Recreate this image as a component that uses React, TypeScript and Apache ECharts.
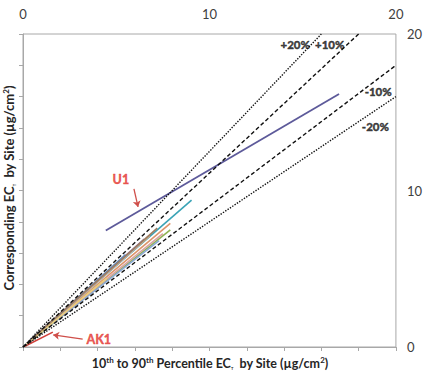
import React, { useEffect, useRef } from "react";
import * as echarts from "echarts";

// Axis ranges and ticks (shared by both axes)
const axisMin = 0;
const axisMax = 20;
const tickStep = 2;
const labelStep = 10;

// Per-site 10th -> 90th percentile segments: [x10, y10, x90, y90]
const siteNames = ["AK1", "U1", "S3", "S4", "S5", "S6", "S7", "S8", "S9", "S10", "S11", "S12", "S13"];
const siteSegments: number[][] = [
  [0.1, 0.05, 1.6, 0.95],
  [4.44, 7.44, 16.95, 16.17],
  [0.6, 0.65, 9.04, 9.39],
  [0.5, 0.5, 7.9, 7.9],
  [0.5, 0.45, 7.9, 7.48],
  [0.4, 0.4, 7.3, 6.8],
  [0.3, 0.3, 6.8, 7.1],
  [0.3, 0.32, 6.2, 6.5],
  [0.5, 0.5, 7.5, 7.25],
  [0.4, 0.45, 6.5, 6.9],
  [0.3, 0.3, 5.5, 5.9],
  [0.2, 0.2, 4.5, 4.4],
  [0.5, 0.55, 7.2, 7.6],
];
const siteColors = [
  "#d0413a", "#5d5a9a", "#3aa3b6", "#dc946a", "#8fb253", "#8aa9d6", "#c9ab8c",
  "#b8b8b8", "#d9a3a3", "#8d6f9c", "#5a86c0", "#e9cf7c", "#9f7d60",
];

// Reference ratio lines through the origin
const ratioLabels = ["+20%", "+10%", "-10%", "-20%"];
const ratioSlopes = [1 / 0.8, 1 / 0.9, 0.9, 0.8];
const ratioDash: (number[] | string)[] = ["dotted", [4, 2.5], [4, 2.5], "dotted"];
const ratioLabelAt = [
  [14.6, 19.3],
  [16.45, 19.3],
  [19.05, 16.35],
  [18.9, 14.1],
];

// Callouts for highlighted sites
const callouts = [
  { name: "U1", text: [5.25, 10.7], from: [5.95, 10.1], to: [6.17, 8.95] },
  { name: "AK1", text: [3.4, 0.45], from: [3.2, 0.5], to: [1.62, 0.77] },
];

const FONT = "Lato, 'Open Sans', sans-serif";
const TITLE_COLOR = "#262626";

const richParts = (size: number) => ({
  sup: {
    fontSize: Math.round(size * 0.62),
    fontWeight: "bold",
    fontFamily: FONT,
    fill: TITLE_COLOR,
    verticalAlign: "top",
    padding: [0, 0, 6, 0],
  },
  sub: {
    fontSize: 4,
    fontWeight: "bold",
    fontFamily: FONT,
    fill: TITLE_COLOR,
    verticalAlign: "bottom",
    padding: [5, 3, 0, 0],
  },
});

export default function App() {
  const ref = useRef<HTMLDivElement>(null);

  useEffect(() => {
    document.body.style.margin = "0";
    if (!ref.current) return;
    const chart = echarts.init(ref.current, undefined, { renderer: "svg" });

    const siteSeries = siteSegments.map((s, i) => ({
      type: "line",
      name: siteNames[i],
      data: [
        [s[0], s[1]],
        [s[2], s[3]],
      ],
      showSymbol: false,
      symbol: "none",
      lineStyle: { color: siteColors[i], width: i === 1 ? 1.8 : 1.6 },
      z: i === 1 ? 4 : 3,
    }));

    const ratioSeries = ratioSlopes.map((m, i) => {
      const end = m >= 1 ? [axisMax / m, axisMax] : [axisMax, axisMax * m];
      return {
        type: "line",
        name: ratioLabels[i],
        data: [[0, 0], end],
        showSymbol: false,
        symbol: "none",
        lineStyle: { color: "#111", width: 1.4, type: ratioDash[i] },
        z: 5,
      };
    });

    const ratioText = {
      type: "scatter",
      symbolSize: 0,
      data: ratioLabelAt.map((p, i) => ({ value: p, label: { formatter: ratioLabels[i] } })),
      label: {
        show: true,
        position: "inside",
        color: "#111",
        fontWeight: 900,
        fontSize: 11.5,
        fontFamily: FONT,
        textBorderColor: "#111",
        textBorderWidth: 0.4,
      },
      z: 6,
    };

    const calloutText = {
      type: "scatter",
      symbolSize: 0,
      data: callouts.map((c) => ({ value: c.text, label: { formatter: c.name } })),
      label: {
        show: true,
        position: "right",
        distance: 0,
        color: "#e3302a",
        fontWeight: 900,
        fontSize: 12.5,
        fontFamily: FONT,
        textBorderColor: "#e3302a",
        textBorderWidth: 0.3,
      },
      z: 6,
    };
    // U1 label is centred on its point
    (calloutText.data[0] as any).label.position = "inside";

    const calloutArrows = {
      type: "lines",
      coordinateSystem: "cartesian2d",
      symbol: ["none", "arrow"],
      symbolSize: 6,
      data: callouts.map((c) => ({ coords: [c.from, c.to] })),
      lineStyle: { color: "#cf4f4a", width: 1.3, opacity: 1 },
      z: 6,
    };

    const tickLabel = {
      formatter: (v: number) => (v % labelStep === 0 ? String(v) : ""),
      color: "#404040",
      fontSize: 13,
      fontFamily: FONT,
    };

    chart.setOption({
      animation: false,
      grid: {
        left: 23,
        right: 28,
        top: 34,
        bottom: 27,
        show: true,
        borderColor: "#a8a8a8",
        borderWidth: 1,
      },
      xAxis: {
        type: "value",
        position: "top",
        min: axisMin,
        max: axisMax,
        interval: tickStep,
        axisLine: { show: true, lineStyle: { color: "#a8a8a8" } },
        axisTick: { show: true, inside: true, length: 4, lineStyle: { color: "#a8a8a8" } },
        axisLabel: { ...tickLabel, margin: 14 },
        splitLine: { show: false },
      },
      yAxis: {
        type: "value",
        position: "right",
        min: axisMin,
        max: axisMax,
        interval: tickStep,
        axisLine: { show: true, lineStyle: { color: "#a8a8a8" } },
        axisTick: { show: true, inside: true, length: 4, lineStyle: { color: "#a8a8a8" } },
        axisLabel: { ...tickLabel, margin: 11 },
        splitLine: { show: false },
      },
      graphic: [
        {
          type: "text",
          x: 210,
          y: 363,
          style: {
            text: "10{sup|th} to 90{sup|th} Percentile EC{sub|T} by Site (µg/cm{sup|2})",
            fill: TITLE_COLOR,
            font: `bold 12.5px ${FONT}`,
            align: "center",
            verticalAlign: "middle",
            rich: richParts(12.5),
          },
        },
        {
          type: "text",
          x: 9,
          y: 188,
          rotation: Math.PI / 2,
          style: {
            text: "Corresponding EC{sub|T} by Site (µg/cm{sup|2})",
            fill: TITLE_COLOR,
            font: `bold 13px ${FONT}`,
            align: "center",
            verticalAlign: "middle",
            rich: richParts(13),
          },
        },
      ],
      series: [...siteSeries, ...ratioSeries, ratioText, calloutText, calloutArrows],
    });

    return () => chart.dispose();
  }, []);

  return <div ref={ref} style={{ width: 425, height: 374 }} />;
}
